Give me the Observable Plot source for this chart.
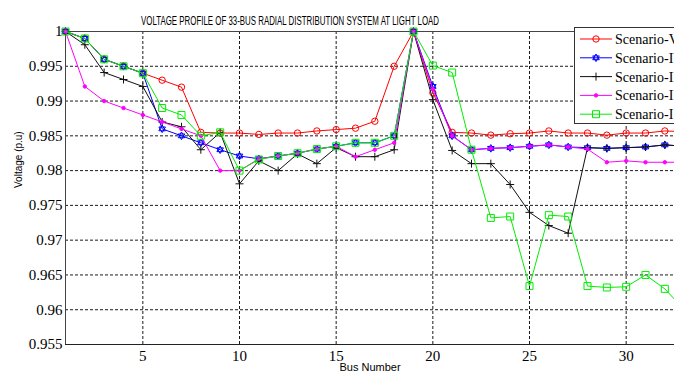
<!DOCTYPE html>
<html><head><meta charset="utf-8">
<script src="https://cdn.jsdelivr.net/npm/d3@7"></script>
<script src="https://cdn.jsdelivr.net/npm/@observablehq/plot@0.6"></script>
<style>html,body{margin:0;padding:0;background:#fff;overflow:hidden}</style>
</head><body><div id="chart"></div>
<script>
const bus = [1,2,3,4,5,6,7,8,9,10,11,12,13,14,15,16,17,18,19,20,21,22,23,24,25,26,27,28,29,30,31,32,33];
const scenV  = [1.0,0.999,0.996,0.995,0.994,0.993,0.992,0.9855,0.9854,0.9854,0.9852,0.9854,0.9854,0.9857,0.9859,0.9861,0.9871,0.995,1.0,0.9912,0.9855,0.9854,0.9851,0.9853,0.9854,0.9857,0.9854,0.9854,0.9851,0.9854,0.9854,0.9857,0.9856];
const scenIV = [1.0,0.999,0.996,0.995,0.994,0.986,0.985,0.984,0.983,0.9821,0.9817,0.9821,0.9825,0.9831,0.9835,0.984,0.984,0.985,1.0,0.9921,0.985,0.983,0.9832,0.9833,0.9835,0.9837,0.9834,0.9833,0.9832,0.9833,0.9834,0.9837,0.9835];
const scenIII= [1.0,0.9981,0.9941,0.9931,0.9921,0.987,0.9863,0.983,0.9855,0.9781,0.9814,0.980,0.9824,0.981,0.9833,0.982,0.982,0.983,1.0,0.9902,0.9829,0.981,0.981,0.978,0.974,0.9721,0.971,0.9833,0.9832,0.9833,0.9834,0.9837,0.9835];
const scenII = [1.0,0.9921,0.990,0.989,0.988,0.987,0.986,0.985,0.980,0.980,0.9817,0.9821,0.9825,0.9831,0.9835,0.982,0.983,0.984,1.0,0.9917,0.985,0.983,0.9832,0.9833,0.9835,0.9837,0.9834,0.9831,0.9812,0.9814,0.9812,0.9812,0.9812];
const scenI  = [1.0,0.999,0.996,0.995,0.994,0.989,0.988,0.985,0.9855,0.980,0.9816,0.9821,0.9825,0.9831,0.9835,0.984,0.984,0.985,1.0,0.9951,0.9941,0.983,0.9732,0.9734,0.9634,0.9736,0.9734,0.9634,0.9632,0.9633,0.965,0.963,0.960];
const seriesNames = ["Scenario-V","Scenario-IV","Scenario-III","Scenario-II","Scenario-I"];
const seriesValues = [scenV, scenIV, scenIII, scenII, scenI];
const xTicks = [5,10,15,20,25,30];
const yTicks = [0.955,0.96,0.965,0.97,0.975,0.98,0.985,0.99,0.995,1];
const titleText = "VOLTAGE PROFILE OF 33-BUS RADIAL DISTRIBUTION SYSTEM AT LIGHT LOAD";
const xLabel = "Bus Number";
const yLabel = "Voltage (p.u)";

// marker shapes
const plusSym = {draw(c, size){const r=Math.sqrt(size/Math.PI); c.moveTo(-r,0); c.lineTo(r,0); c.moveTo(0,-r); c.lineTo(0,r);}};
const squareSym = {draw(c, size){const r=Math.sqrt(size/Math.PI); c.rect(-r,-r,2*r,2*r);}};
const hexSym = {draw(c, size){const r=Math.sqrt(size/Math.PI);
  for (const off of [-Math.PI/2, Math.PI/2]) {
    for (let k=0;k<3;k++){const a=off+k*2*Math.PI/3; const x=r*Math.cos(a), y=r*Math.sin(a); k?c.lineTo(x,y):c.moveTo(x,y);} c.closePath();
  }}};
const styles = [
  {color:"#ff0000", symbol:"circle", r:3.2, fill:"none"},
  {color:"#0000ff", symbol:hexSym, r:3.8, fill:"none"},
  {color:"#111111", symbol:plusSym, r:4, fill:"none"},
  {color:"#ff00ff", symbol:"circle", r:1.7, fill:"#ff00ff"},
  {color:"#00ee00", symbol:squareSym, r:3.5, fill:"none"}
];
const serif = "Liberation Serif";
const sans = "Liberation Sans";

const rows = seriesNames.map((name, si) => bus.map((b, i) => ({bus:b, v:seriesValues[si][i], name})));

const marks = [
  Plot.gridX(xTicks, {stroke:"#000", strokeOpacity:0.9, strokeDasharray:"3,2"}),
  Plot.gridY(yTicks.filter(d => d > 0.955 && d < 1), {stroke:"#000", strokeOpacity:0.9, strokeDasharray:"3,2"}),
  Plot.ruleY([0.955], {stroke:"#222", strokeWidth:1.2}),
  Plot.ruleY([1], {stroke:"#444"}),
  Plot.ruleX([1], {stroke:"#444"}),
  Plot.axisY(yTicks, {tickSize:0, tickPadding:3, label:null, fontFamily:serif, fontSize:15, tickFormat:d => String(+d.toFixed(3))}),
  Plot.axisX(xTicks, {tickSize:0, tickPadding:6, label:null, fontFamily:serif, fontSize:15})
];
rows.forEach((data, si) => {
  const s = styles[si];
  marks.push(Plot.line(data, {x:"bus", y:"v", stroke:s.color, strokeWidth:1}));
  marks.push(Plot.dot(data, {x:"bus", y:"v", symbol:s.symbol, r:s.r, stroke:s.color, fill:s.fill, strokeWidth:1}));
});
marks.push(Plot.text([titleText], {text:d=>d, frameAnchor:"top", dy:-15, dx:-80, fontFamily:sans, fontSize:12}));
marks.push(Plot.text([xLabel], {text:d=>d, frameAnchor:"bottom", dy:26, fontFamily:sans, fontSize:11}));
marks.push(Plot.text([yLabel], {text:d=>d, frameAnchor:"left", dx:-47, rotate:-90, fontFamily:sans, fontSize:10}));

const plot = Plot.plot({
  width:674, height:374,
  marginLeft:65, marginRight:0, marginTop:31, marginBottom:30,
  x:{domain:[1,32.5]},
  y:{domain:[0.955,1]},
  style:{fontFamily:serif, fontSize:"15px", color:"#000", background:"#fff"},
  marks
});
document.getElementById("chart").append(plot);

const svg = d3.select(plot);
svg.selectAll("text").filter(function(){return this.textContent === titleText;})
  .attr("textLength", 298).attr("lengthAdjust", "spacingAndGlyphs");

// legend
const lg = svg.append("g").attr("text-anchor","start");
lg.append("rect").attr("x",574.5).attr("y",27.5).attr("width",130).attr("height",96).attr("fill","#fff").attr("stroke","#333");
seriesNames.forEach((name, i) => {
  const s = styles[i];
  const y = 39 + i*18.8;
  lg.append("line").attr("x1",580).attr("x2",612).attr("y1",y).attr("y2",y).attr("stroke",s.color);
  const sym = s.symbol === "circle" ? d3.symbolCircle : s.symbol;
  lg.append("path").attr("transform",`translate(596,${y})`)
    .attr("d", d3.symbol(sym, s.r*s.r*Math.PI)())
    .attr("stroke", s.color).attr("fill", s.fill);
  lg.append("text").attr("x",615).attr("y",y+5).attr("text-anchor","start")
    .attr("font-family",serif).attr("font-size",14).attr("fill","#000").text(name);
});
</script></body></html>
